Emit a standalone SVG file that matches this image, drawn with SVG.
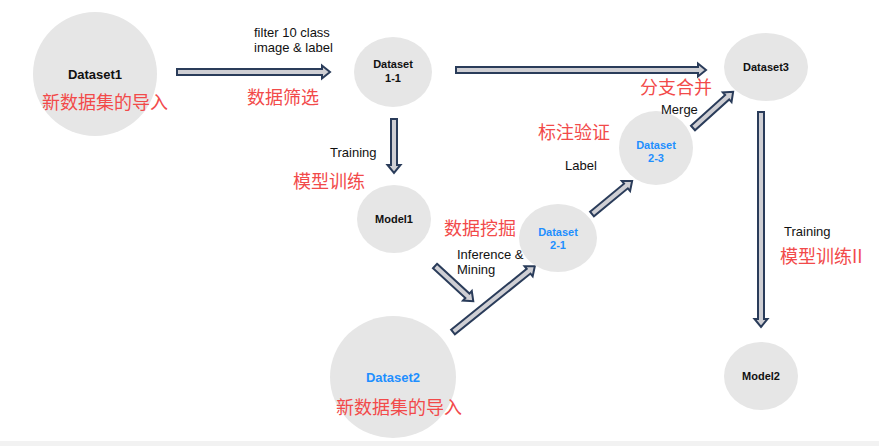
<svg xmlns="http://www.w3.org/2000/svg" width="879" height="446" viewBox="0 0 879 446">
<style>
.node{fill:#e6e6e6}
.t{font-family:"Liberation Sans",Arial,sans-serif;font-weight:bold;fill:#111;text-anchor:middle}
.b{fill:#1e8fff}
.lbl{font-family:"Liberation Sans",Arial,sans-serif;font-size:13px;fill:#111}
.cn{font-family:"Noto Sans CJK SC",sans-serif;font-size:18px;fill:#f24a4a}
.arr{fill:#cfcfd4;stroke:#2a3c5a;stroke-width:2;stroke-linejoin:miter}
</style>
<rect width="879" height="446" fill="#fff"/>
<rect x="0" y="441" width="879" height="5" fill="#f2f2f2"/>
<g id="connectors">
<path class="arr" transform="translate(177,72)" d="M0,-3 L145,-3 L145,-6.5 L153,0 L145,6.5 L145,3 L0,3 Z"/>
<path class="arr" transform="translate(456,70)" d="M0,-3 L242,-3 L242,-6.5 L250,0 L242,6.5 L242,3 L0,3 Z"/>
<path class="arr" transform="translate(394,119) rotate(90)" d="M0,-3 L46,-3 L46,-6.5 L54,0 L46,6.5 L46,3 L0,3 Z"/>
<path class="arr" transform="translate(435,266) rotate(42.6)" d="M0,-3 L44,-3 L44,-6.5 L52,0 L44,6.5 L44,3 L0,3 Z"/>
<path class="arr" transform="translate(453,332) rotate(-38.8)" d="M0,-3 L97,-3 L97,-6.5 L105,0 L97,6.5 L97,3 L0,3 Z"/>
<path class="arr" transform="translate(592,214) rotate(-39.5)" d="M0,-3 L44,-3 L44,-6.5 L52,0 L44,6.5 L44,3 L0,3 Z"/>
<path class="arr" transform="translate(693,128) rotate(-42)" d="M0,-3 L46,-3 L46,-6.5 L54,0 L46,6.5 L46,3 L0,3 Z"/>
<path class="arr" transform="translate(761,112) rotate(90)" d="M0,-3 L207,-3 L207,-6.5 L215,0 L207,6.5 L207,3 L0,3 Z"/>
</g>
<g id="dataset1">
<ellipse class="node" cx="95" cy="74" rx="62" ry="62"/>
<text class="t" x="95" y="79" font-size="13">Dataset1</text>
<text class="cn" x="42" y="109">新数据集的导入</text>
</g>
<g id="dataset1-1">
<ellipse class="node" cx="393" cy="72" rx="39" ry="35"/>
<text class="t" x="393" y="68" font-size="11">Dataset</text>
<text class="t" x="393" y="82" font-size="11">1-1</text>
</g>
<g id="dataset3">
<ellipse class="node" cx="766" cy="67" rx="42" ry="34"/>
<text class="t" x="766" y="71" font-size="11">Dataset3</text>
</g>
<g id="model1">
<ellipse class="node" cx="394" cy="219" rx="37" ry="34"/>
<text class="t" x="394" y="223" font-size="11">Model1</text>
</g>
<g id="dataset2-1">
<ellipse class="node" cx="558" cy="238" rx="39" ry="34"/>
<text class="t b" x="558" y="236" font-size="11">Dataset</text>
<text class="t b" x="558" y="249" font-size="11">2-1</text>
</g>
<g id="dataset2-3">
<ellipse class="node" cx="656" cy="148" rx="37" ry="37"/>
<text class="t b" x="656" y="149" font-size="11">Dataset</text>
<text class="t b" x="656" y="162" font-size="11">2-3</text>
</g>
<g id="dataset2">
<ellipse class="node" cx="393" cy="377" rx="63" ry="61"/>
<text class="t b" x="393" y="382" font-size="13">Dataset2</text>
<text class="cn" x="336" y="414">新数据集的导入</text>
</g>
<g id="model2">
<ellipse class="node" cx="761" cy="376" rx="37" ry="34"/>
<text class="t" x="761" y="380" font-size="11">Model2</text>
</g>
<g id="labels">
<text class="lbl" x="254" y="37">filter 10 class</text>
<text class="lbl" x="254" y="52">image &amp; label</text>
<text class="cn" x="247" y="104">数据筛选</text>
<text class="lbl" x="330" y="157">Training</text>
<text class="cn" x="293" y="188">模型训练</text>
<text class="cn" x="444" y="235">数据挖掘</text>
<text class="lbl" x="457" y="259">Inference &amp;</text>
<text class="lbl" x="457" y="274">Mining</text>
<text class="cn" x="538" y="139">标注验证</text>
<text class="lbl" x="565" y="170">Label</text>
<text class="cn" x="640" y="94">分支合并</text>
<text class="lbl" x="661" y="114">Merge</text>
<text class="lbl" x="784" y="236">Training</text>
<text class="cn" x="780" y="263">模型训练II</text>
</g>
</svg>
